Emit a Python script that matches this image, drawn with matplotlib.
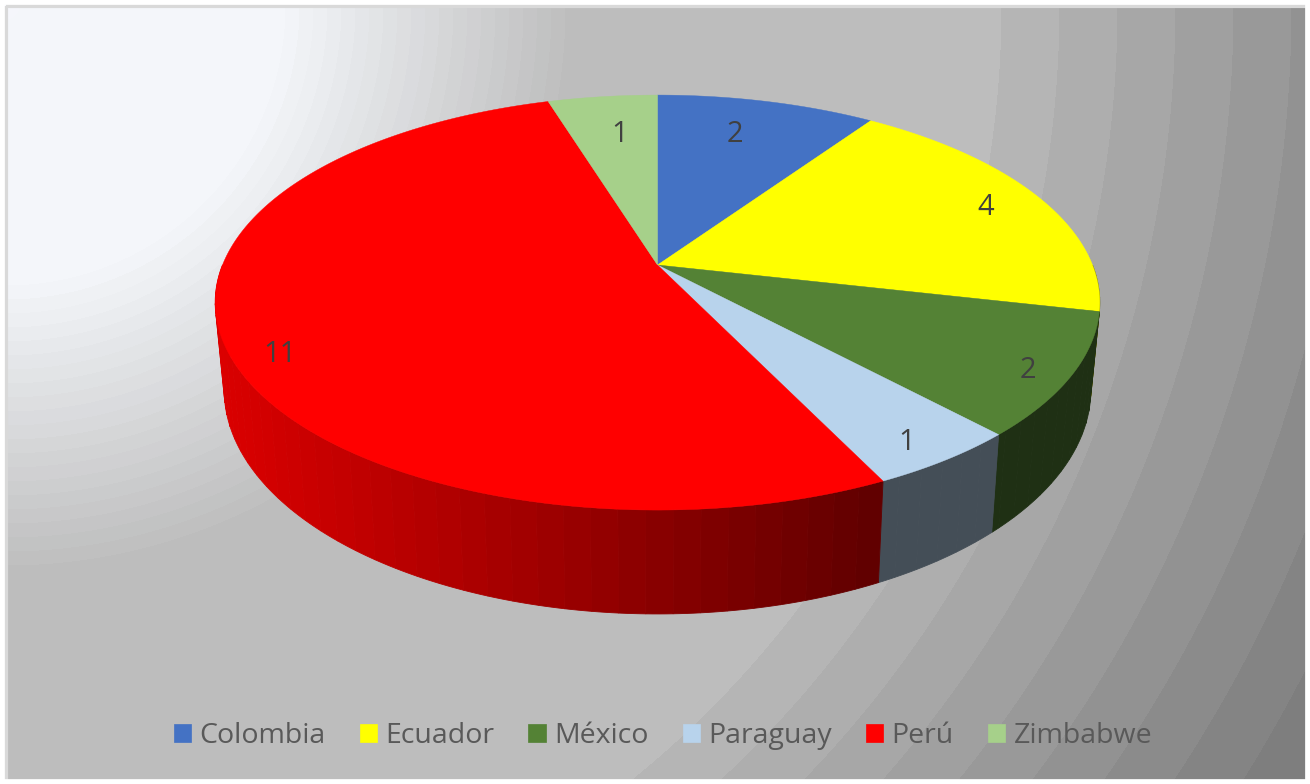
import matplotlib
matplotlib.use('Agg')
import matplotlib.pyplot as plt
import numpy as np
from matplotlib.colors import LinearSegmentedColormap, to_rgb
from matplotlib.patches import Patch, Rectangle

plt.rcParams['font.family'] = ['Open Sans', 'DejaVu Sans']

countries = ['Colombia', 'Ecuador', 'México', 'Paraguay', 'Perú', 'Zimbabwe']
values = [2, 4, 2, 1, 11, 1]
colors = ['#4472c4', '#ffff00', '#548235', '#b8d3ec', '#ff0000', '#a6d08a']

# where each number sits inside its slice
label_r = [0.78, 0.86, 0.91, 0.90, 0.90, 0.76]
label_shift = [-2.2, -0.5, 1.0, 0.9, -5.0, 1.1]

W, H = 1310, 784

# perspective of the pie disc, in pixels
CX, CY = 657.5, 265
A, B, P = 435, 200.7, 0.181
LOW_CY, LOW_A, LOW_B = 349, 426.2, 217


def project(angle, r=1.0, lower=False):
    # angle in degrees, clockwise from 12 o'clock
    t = np.radians(angle)
    x = r * np.sin(t)
    y = r * np.cos(t)
    d = 1 + P * y
    if lower:
        return CX + LOW_A * x / d, LOW_CY - LOW_B * y / d
    return CX + A * x / d, CY - B * y / d


def wall_shade(x):
    return np.interp(x, [222, 880], [0.86, 0.37])


fig = plt.figure(figsize=(W / 100, H / 100), dpi=100)
ax = fig.add_axes([0, 0, 1, 1])

# background: radial gradient out of the top left corner, banded like the original
stops = [0, 270, 563, 996, 1518]
greys = ['#f5f6fb', '#f4f6fa', '#bdbdbd', '#bdbdbd', '#7e7e7e']
cmap = LinearSegmentedColormap.from_list(
    'bg', [(s / stops[-1], g) for s, g in zip(stops, greys)], N=512)
yy, xx = np.mgrid[0:H, 0:W]
dist = np.hypot(xx - 5, yy - 5)
bands = np.where(dist > 996, 996 + 58 * np.ceil((dist - 996) / 58), np.floor(dist / 14) * 14)
ax.imshow(bands, cmap=cmap, vmin=0, vmax=stops[-1], extent=[0, W, H, 0], zorder=0)
ax.add_patch(Rectangle((5.5, 5.5), W - 8, H + 10, fill=False, ec='#d9d9d9', lw=3, zorder=1))
ax.add_patch(Rectangle((0, 0), W, H, fill=False, ec='white', lw=7, zorder=1))

edges = 360 * np.cumsum([0] + values) / sum(values)

# side wall, only the front half can be seen
for i in range(len(values)):
    start = max(edges[i], 90)
    stop = min(edges[i + 1], 270)
    if stop <= start:
        continue
    steps = np.arange(start, stop, 3.0)
    steps = np.append(steps, stop)
    for a0, a1 in zip(steps[:-1], steps[1:]):
        ang = np.linspace(a0, a1, 5)
        xt, yt = project(ang)
        xb, yb = project(ang, lower=True)
        shade = wall_shade(xb.mean())
        c = tuple(v * shade for v in to_rgb(colors[i]))
        ax.fill(np.r_[xt, xb[::-1]], np.r_[yt, yb[::-1]], color=c, lw=0.6, zorder=2)

# top of the disc
for i in range(len(values)):
    ang = np.linspace(edges[i], edges[i + 1], 200)
    xs, ys = project(ang)
    ax.fill(np.r_[CX, xs], np.r_[CY, ys], color=colors[i], lw=0.3, zorder=3)

for i, v in enumerate(values):
    mid = (edges[i] + edges[i + 1]) / 2 + label_shift[i]
    lx, ly = project(mid, label_r[i])
    ax.text(lx, ly + 3, str(v), color='#404040', fontsize=21, ha='center', va='center', zorder=4)

handles = [Patch(facecolor=c, edgecolor=c, lw=0.5) for c in colors]
ax.legend(handles, countries, ncol=6, frameon=False, fontsize=20.5, labelcolor='#595959',
          loc='center', bbox_to_anchor=(663 / W, 1 - 736 / H),
          handlelength=0.6, handleheight=0.6, handletextpad=0.3,
          columnspacing=1.2, borderpad=0, borderaxespad=0)

ax.set_xlim(0, W)
ax.set_ylim(H, 0)
ax.axis('off')
fig.savefig('out.png', dpi=100)
